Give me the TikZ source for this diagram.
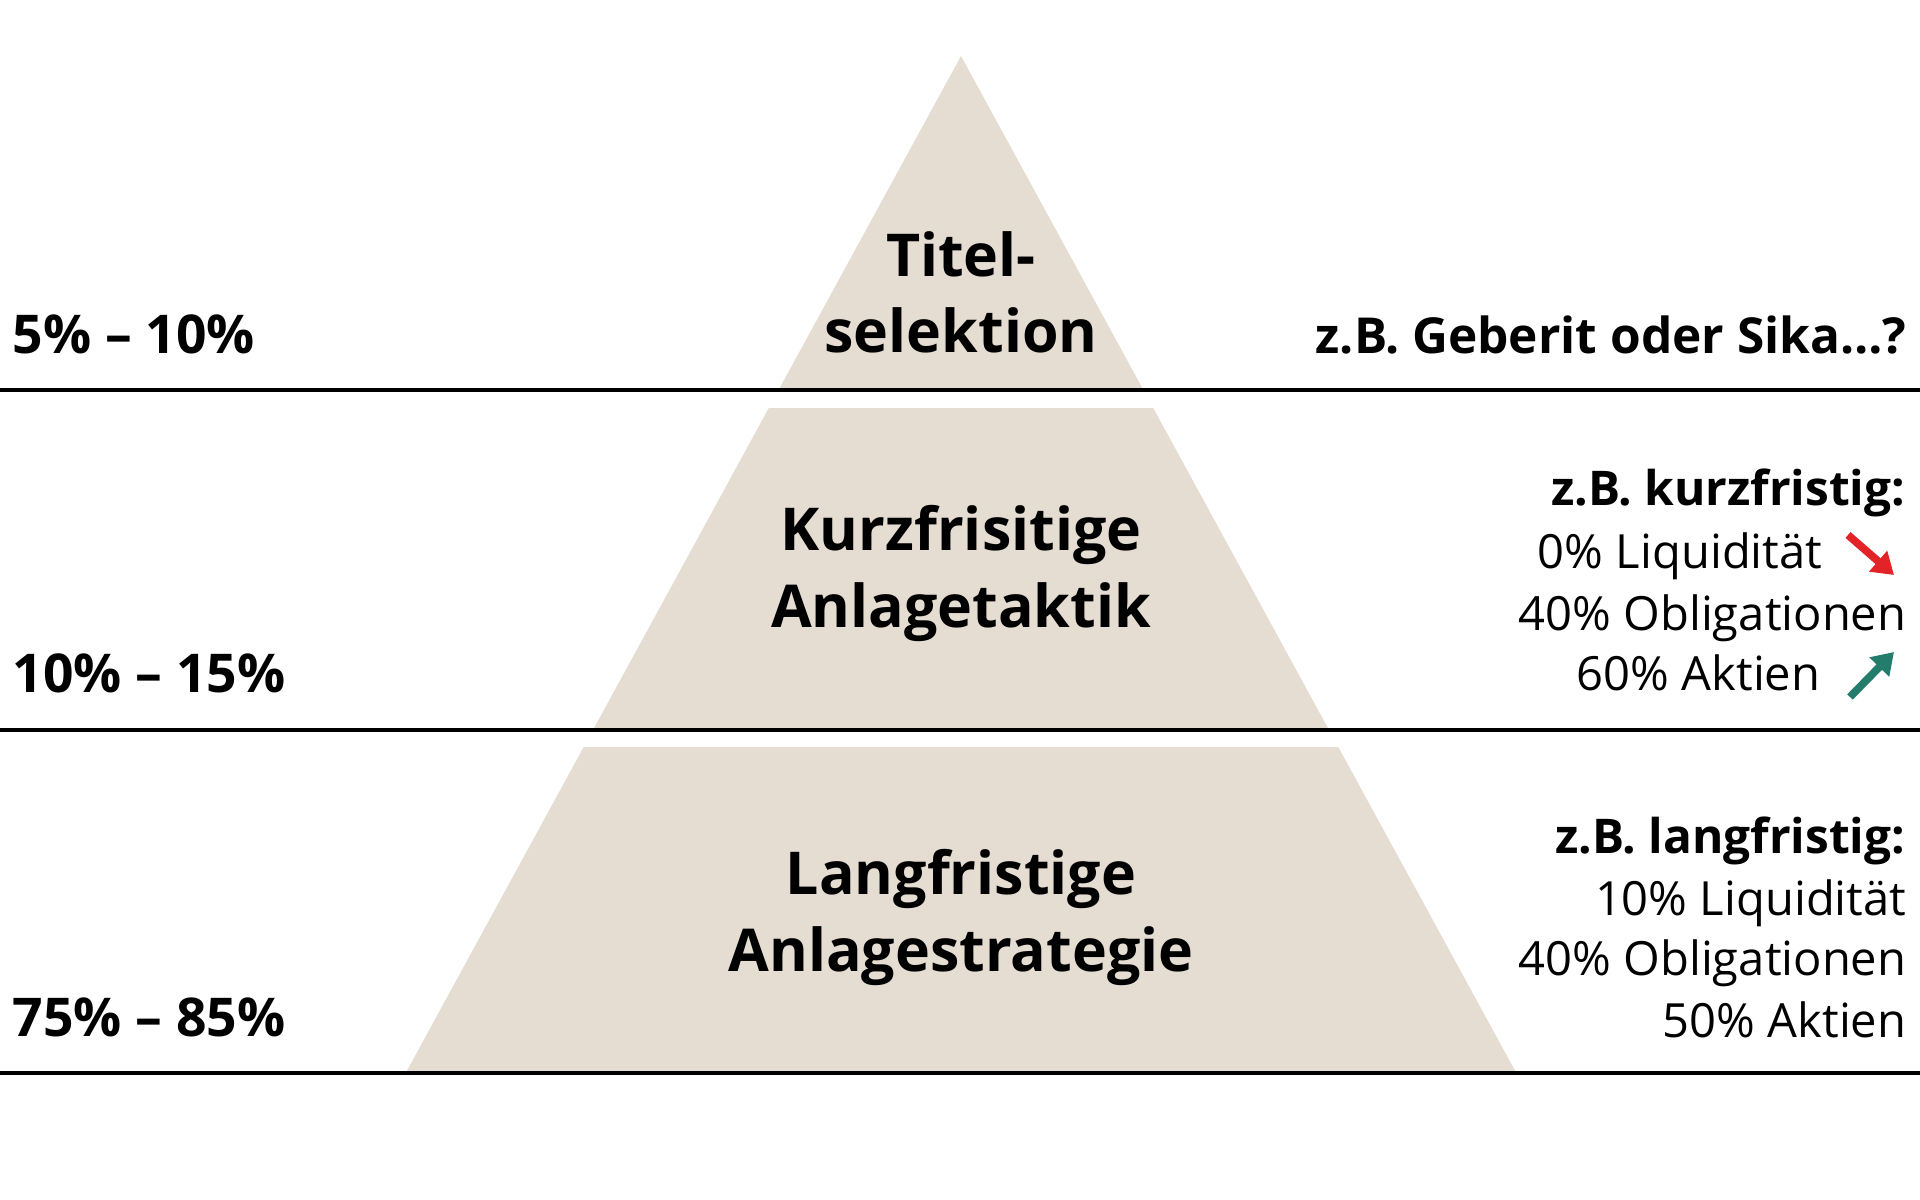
\documentclass[tikz,border=0pt]{standalone}
\usepackage{fontspec}
\setmainfont{Open Sans}
\usepackage{tikz}
\usepackage{xcolor}
\usetikzlibrary{calc}
\usetikzlibrary{arrows.meta}

\definecolor{sable}{RGB}{229,220,210}
\definecolor{baisse}{RGB}{226,35,40}
\definecolor{hausse}{RGB}{36,124,108}

\begin{document}
\begin{tikzpicture}[x=0.01cm, y=-0.01cm]

\tikzset{
    etage/.style = {
    fill=sable,
    draw=none
    }
}

\tikzstyle{niveau}=[inner sep=0pt, anchor=base, font=\fontsize{16.8}{20}\selectfont\bfseries]
\tikzstyle{part}=[inner sep=0pt, anchor=base west, font=\fontsize{15.2}{18}\selectfont\bfseries]
\tikzstyle{titre}=[inner sep=0pt, anchor=base east, font=\fontsize{13.6}{16}\selectfont\bfseries]
\tikzstyle{ligne}=[inner sep=0pt, anchor=base east, font=\fontsize{13.4}{16}\selectfont]
\tikzstyle{separation}=[line width=1.1pt]
\tikzstyle{fleche}=[line width=2.2pt, -{Triangle[length=6pt, width=7.5pt]}]

\useasboundingbox (0,0) rectangle (1920,1200);

% pyramide
\fill[etage] (961,56) -- (1143.4,390) -- (778.6,390) -- cycle;
\fill[etage] (768.8,408) -- (1153.2,408) -- (1329,730) -- (593,730) -- cycle;
\fill[etage] (583.7,747) -- (1338.3,747) -- (1516.3,1073) -- (405.7,1073) -- cycle;

\draw[separation] (0,390) -- (1920,390);
\draw[separation] (0,730) -- (1920,730);
\draw[separation] (0,1073) -- (1920,1073);

\node (titel-1) [niveau] at (961,276) {Titel-};
\node (titel-2) [niveau] at (961,352) {selektion};
\node (taktik-1) [niveau] at (961,550) {Kurzfrisitige};
\node (taktik-2) [niveau] at (961,627) {Anlagetaktik};
\node (strat-1) [niveau] at (961,894) {Langfristige};
\node (strat-2) [niveau] at (961,971) {Anlagestrategie};

\node (part-titel) [part] at (12,353) {5\% – 10\%};
\node (part-taktik) [part] at (12,692) {10\% – 15\%};
\node (part-strat) [part] at (12,1036) {75\% – 85\%};

\node (bsp-titel) [titre, font=\fontsize{14.1}{17}\selectfont\bfseries] at (1907,353) {z.B. Geberit oder Sika…?};

\node (k-titre) [titre] at (1906,505) {z.B. kurzfristig:};
\node (k-liq) [ligne] at (1823,568) {0\% Liquidität};
\node (k-obl) [ligne] at (1907,630) {40\% Obligationen};
\node (k-akt) [ligne] at (1821,690) {60\% Aktien};

\node (l-titre) [titre] at (1906,853) {z.B. langfristig:};
\node (l-liq) [ligne] at (1907,915) {10\% Liquidität};
\node (l-obl) [ligne] at (1907,975) {40\% Obligationen};
\node (l-akt) [ligne] at (1907,1037) {50\% Aktien};

\coordinate (baisse-a) at ([shift={(25,-33)}]k-liq.base east);
\coordinate (baisse-b) at ([shift={(71,7)}]k-liq.base east);
\coordinate (hausse-a) at ([shift={(29,7)}]k-akt.base east);
\coordinate (hausse-b) at ([shift={(73,-38)}]k-akt.base east);

\draw[fleche, baisse] (baisse-a) -- (baisse-b);
\draw[fleche, hausse] (hausse-a) -- (hausse-b);

\end{tikzpicture}
\end{document}
